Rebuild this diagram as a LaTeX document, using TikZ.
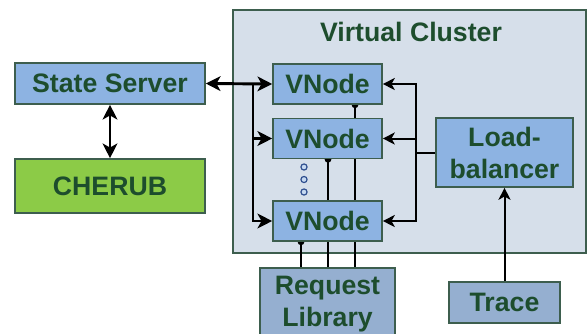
\documentclass[tikz,border=0pt]{standalone}
\usepackage{fontspec}
\setmainfont{Liberation Sans}
\usetikzlibrary{arrows.meta}

\definecolor{edge}{HTML}{3D5E4E}
\definecolor{txt}{HTML}{1D4D2D}
\definecolor{vblue}{HTML}{8DB3E2}
\definecolor{gblue}{HTML}{95AFD0}
\definecolor{cgreen}{HTML}{8CCB47}
\definecolor{cfill}{HTML}{D6DFEA}
\definecolor{dotblue}{HTML}{2F4F8F}
\definecolor{dotfill}{HTML}{C6D9F1}

\pgfdeclarelayer{back}
\pgfdeclarelayer{wires}
\pgfsetlayers{back,wires,main}

\begin{document}
\begin{tikzpicture}[x=0.75pt,y=-0.75pt,
  box/.style={draw=edge, line width=1.2pt, fill=vblue, text=txt, align=center, inner sep=0pt,
    font=\bfseries\fontsize{20}{24}\selectfont},
  vnode/.style={box, minimum width=81.75pt, minimum height=30pt},
  bigwire/.style={line width=2.2pt},
  thinwire/.style={line width=1.5pt, -{Stealth[length=9pt,width=9pt,inset=2.5pt]}},
  dotwire/.style={line width=1.1pt, {Circle[length=5pt]}-, shorten <=-2.5pt}]
\clip (0,0) rectangle (588,333);

% virtual cluster
\begin{pgfonlayer}{back}
\draw[draw=edge, line width=1.2pt, fill=cfill] (233,10) rectangle (586,253);
\end{pgfonlayer}
\node[text=txt, inner sep=0pt, font=\bfseries\fontsize{20}{24}\selectfont] (vc) at (411,32) {Virtual Cluster};

\node[box, minimum width=142.5pt, minimum height=30.75pt] (ss) at (110,83.5) {State Server};
\node[box, fill=cgreen, minimum width=142.5pt, minimum height=40.5pt] (cherub) at (110,186) {CHERUB};

\node[vnode] (vn1) at (327.5,84) {VNode};
\node[vnode] (vn2) at (327.5,138.5) {VNode};
\node[vnode] (vn3) at (327.5,221) {VNode};
\foreach \y in {167,179.5,192}
    \draw[dotblue, fill=dotfill, line width=0.9pt] (304,\y) circle (2.3pt);

\node[box, minimum width=102.75pt, minimum height=51.75pt] (lb) at (504.5,152.5) {Load-\\balancer};
\node[box, fill=gblue, minimum width=83.25pt, minimum height=30.75pt] (trace) at (504.5,302.5) {Trace};
\node[box, fill=gblue, minimum width=101.25pt, minimum height=54pt] (reqlib) at (327.5,304) {Request\\Library};

% state server side
\draw[bigwire, {Stealth[length=11pt,width=11pt,inset=3pt]}-{Stealth[length=11pt,width=11pt,inset=3pt]}] (ss) -- (cherub);
\draw[bigwire, {Stealth[length=11pt,width=11pt,inset=3pt]}-{Stealth[length=11pt,width=11pt,inset=3pt]}] (ss.east) -- (vn1.west);
\coordinate (j1) at (253,84);
\draw[bigwire, -{Stealth[length=11pt,width=11pt,inset=3pt]}] (j1) |- (vn3.west);
\draw[bigwire, -{Stealth[length=11pt,width=11pt,inset=3pt]}] (j1 |- vn2.west) -- (vn2.west);

% load-balancer side
\coordinate (j2) at (416,152.5);
\draw[line width=1.5pt] (lb.west) -- (j2);
\draw[thinwire] (j2) |- (vn1.east);
\draw[thinwire] (j2) |- (vn3.east);
\draw[thinwire] (j2 |- vn2.east) -- (vn2.east);
\draw[thinwire] (trace) -- (lb);

% request library wires
\coordinate (w1) at (355,0);
\coordinate (w2) at (328,0);
\coordinate (w3) at (301,0);
\begin{pgfonlayer}{wires}
\draw[dotwire] (vn1.south -| w1) -- (reqlib.north -| w1);
\draw[dotwire] (vn2.south -| w2) -- (reqlib.north -| w2);
\draw[dotwire] (vn3.south -| w3) -- (reqlib.north -| w3);
\end{pgfonlayer}
\end{tikzpicture}
\end{document}
